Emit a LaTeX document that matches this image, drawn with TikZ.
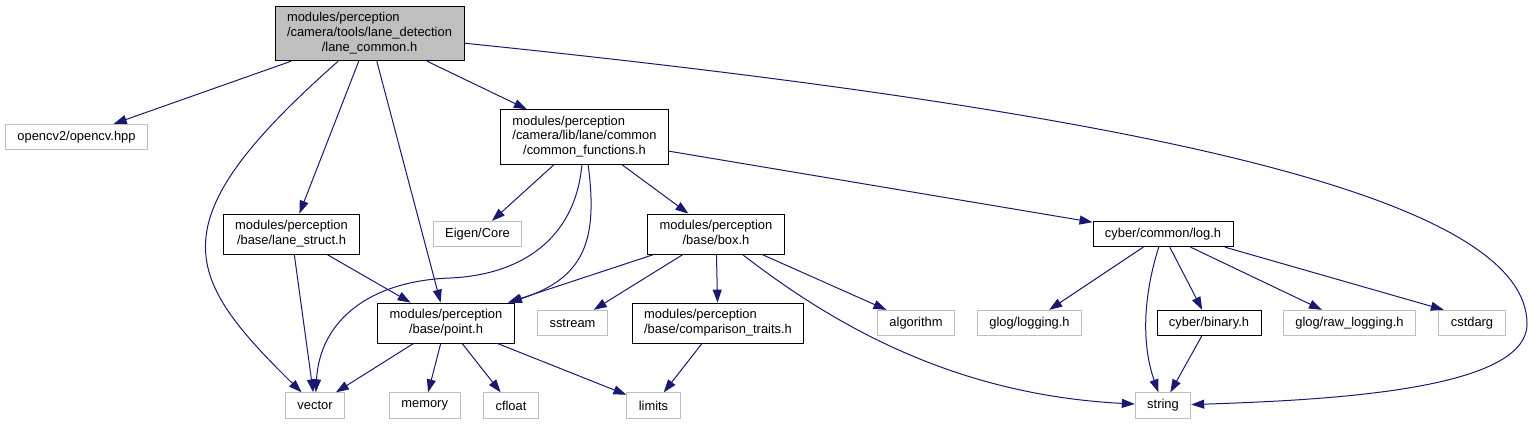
\documentclass[tikz,border=0pt]{standalone}
\usepackage{fontspec}
\setmainfont{Liberation Sans}
\usepackage{xcolor}
\usepackage{tikz}
\usetikzlibrary{arrows.meta}
\definecolor{edgeblue}{RGB}{25, 25, 112}
\definecolor{extgray}{RGB}{191, 191, 191}
\newcommand{\pathlabel}[2]{\begin{tabular}{@{}l@{}}#1\\\multicolumn{1}{@{}c@{}}{#2}\end{tabular}}

\begin{document}
\begin{tikzpicture}[x=1pt, y=-1pt, >={Triangle[length=13pt, width=9pt]},
  header/.style={draw=black, line width=0.8pt, fill=white, inner xsep=12pt, inner ysep=5.3pt, minimum height=25.5pt, font=\fontsize{12.9}{14.7}\selectfont},
  extheader/.style={header, draw=extgray},
  incl/.style={->, edgeblue, line width=1pt}]
  \useasboundingbox (0,0) rectangle (1532,424);

  % Project headers
  \node[header, fill=extgray] (lanecommon) at (369.5,33.5) {\pathlabel{modules/perception\\/camera/tools/lane\_detection}{/lane\_common.h}};
  \node[header] (commonfn) at (584.5,137) {\pathlabel{modules/perception\\/camera/lib/lane/common}{/common\_functions.h}};
  \node[header] (lanestruct) at (291.5,234) {\pathlabel{modules/perception}{/base/lane\_struct.h}};
  \node[header] (box) at (716,234) {\pathlabel{modules/perception}{/base/box.h}};
  \node[header] (log) at (1163,234) {cyber/common/log.h};
  \node[header] (point) at (446,323) {\pathlabel{modules/perception}{/base/point.h}};
  \node[header] (comparison) at (718,323) {\pathlabel{modules/perception}{/base/comparison\_traits.h}};
  \node[header] (binary) at (1209,323) {cyber/binary.h};

  % System headers
  \node[extheader] (opencv) at (76.5,137) {opencv2/opencv.hpp};
  \node[extheader] (eigen) at (477.5,234) {Eigen/Core};
  \node[extheader] (sstream) at (572.5,323) {sstream};
  \node[extheader] (algorithm) at (916,323) {algorithm};
  \node[extheader] (glog) at (1029.5,323) {glog/logging.h};
  \node[extheader] (rawlog) at (1349.5,323) {glog/raw\_logging.h};
  \node[extheader] (cstdarg) at (1472,323) {cstdarg};
  \node[extheader] (vector) at (315,405.5) {vector};
  \node[extheader] (memory) at (424.7,405.5) {memory};
  \node[extheader] (cfloat) at (511,405.5) {cfloat};
  \node[extheader] (limits) at (653.5,405.5) {limits};
  \node[extheader] (string) at (1163,405.5) {string};

  % Includes of lane_common.h
  \draw[incl] (lanecommon) -- (opencv);
  \draw[incl] (lanecommon) .. controls (156,222) and (182,275) .. (vector);
  \draw[incl] (lanecommon) -- (lanestruct);
  \draw[incl] (lanecommon) -- (point);
  \draw[incl] (lanecommon) -- (commonfn);
  \draw[incl] (lanecommon) .. controls (1164,115) and (1527,200) .. (1527,324) .. controls (1527,390) and (1330,400) .. (string);

  % Includes of common_functions.h
  \draw[incl] (commonfn) -- (eigen);
  \draw[incl] (commonfn) .. controls (575,240) and (520,275) .. (450,278) .. controls (370,281) and (320,320) .. (vector);
  \draw[incl] (commonfn) .. controls (598,240) and (585,278) .. (point);
  \draw[incl] (commonfn) -- (box);
  \draw[incl] (commonfn) -- (log);

  % Includes of lane_struct.h and point.h
  \draw[incl] (lanestruct) -- (vector);
  \draw[incl] (lanestruct) -- (point);
  \draw[incl] (point) -- (vector);
  \draw[incl] (point) -- (memory);
  \draw[incl] (point) -- (cfloat);
  \draw[incl] (point) -- (limits);

  % Includes of box.h
  \draw[incl] (box) -- (point);
  \draw[incl] (box) -- (sstream);
  \draw[incl] (box) -- (comparison);
  \draw[incl] (box) -- (algorithm);
  \draw[incl] (box) .. controls (840,330) and (960,395) .. (string);
  \draw[incl] (comparison) -- (limits);

  % Includes of log.h
  \draw[incl] (log) -- (glog);
  \draw[incl] (log) .. controls (1145,290) and (1140,340) .. (string);
  \draw[incl] (log) -- (binary);
  \draw[incl] (log) -- (rawlog);
  \draw[incl] (log.-12) -- (cstdarg.155);
  \draw[incl] (binary) -- (string);
\end{tikzpicture}
\end{document}
